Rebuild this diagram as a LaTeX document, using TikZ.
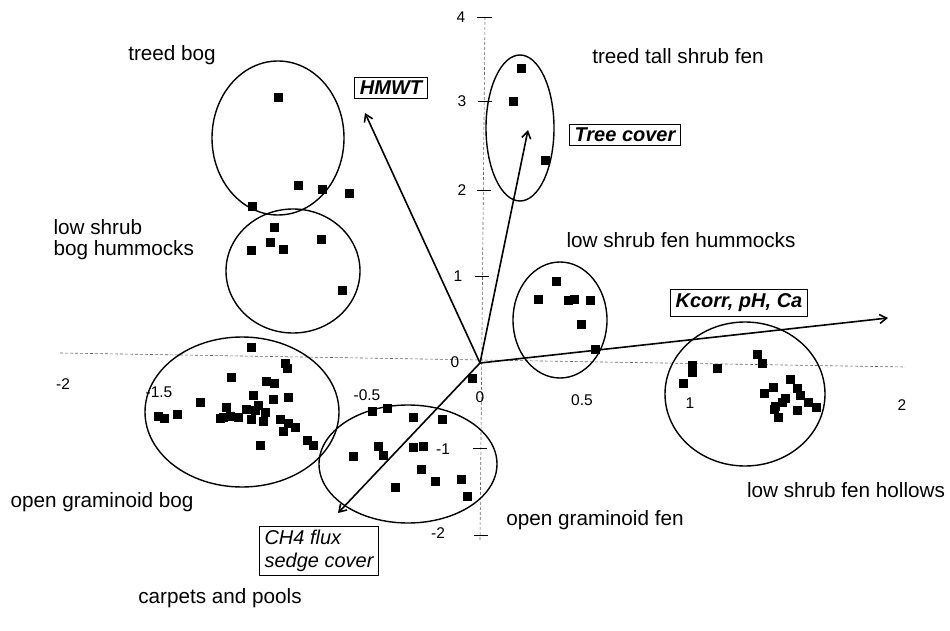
\documentclass[tikz,border=0pt]{standalone}
\usepackage{fontspec}
\setmainfont{Liberation Sans}
\usetikzlibrary{arrows.meta}
\tikzset{
  grplabel/.style={font=\fontsize{20.7}{21}\selectfont},
  ticklabel/.style={font=\fontsize{15.5}{17}\selectfont},
  varbox/.style={draw, line width=1pt, inner xsep=5pt, inner ysep=4pt, font=\fontsize{20}{22}\selectfont\bfseries\itshape},
  vec/.style={line width=1.6pt, -{Straight Barb[length=7pt,width=9pt]}},
  grpline/.style={line width=1.4pt},
  axisline/.style={densely dashed, line width=0.6pt, black!60},
}
\def\plotpts#1{\foreach \px/\py in {#1} {\fill ({\px-4.5},{\py-4.5}) rectangle ++(9,9);}}

\begin{document}
\begin{tikzpicture}[x=1pt,y=-1pt]
			%%%%% START %%%%%
			\useasboundingbox (0,0) rectangle (950,631);
			
			% axes
			\draw[axisline] (60,353) -- (905,367);
			\draw[axisline] (485,17) -- (480,540);
			\draw[line width=0.6pt] (477,17) -- (492,17);
			\draw[line width=0.6pt] (478,101) -- (492,101);
			\draw[line width=0.6pt] (477,190) -- (491,190);
			\draw[line width=0.6pt] (475,276) -- (489,276);
			\draw[line width=0.6pt] (473,448) -- (487,448);
			\draw[line width=0.6pt] (474,535) -- (488,535);
			
			\node[ticklabel] (t4) at (461,17) {4};
			\node[ticklabel] (t3) at (462,101) {3};
			\node[ticklabel] (t2) at (462,190) {2};
			\node[ticklabel] (t1) at (458,276) {1};
			\node[ticklabel] (t0) at (455,362) {0};
			\node[ticklabel] (tm1) at (443,449) {-1};
			\node[ticklabel] (tm2) at (438,533) {-2};
			\node[ticklabel] (xm2) at (63,384) {-2};
			\node[ticklabel] (xm15) at (159,392) {-1.5};
			\node[ticklabel] (xm05) at (367,395) {-0.5};
			\node[ticklabel] (x0) at (480,397) {0};
			\node[ticklabel] (x05) at (582,400) {0.5};
			\node[ticklabel] (x1) at (690,403) {1};
			\node[ticklabel] (x2) at (902,405) {2};
			
			% groups
			\draw[grpline] (278,138) ellipse [x radius=66, y radius=77];
			\draw[grpline] (293,271) ellipse [x radius=67, y radius=62];
			\draw[grpline] (520,128) ellipse [x radius=34, y radius=73];
			\draw[grpline] (560,320) ellipse [x radius=47, y radius=58];
			\draw[grpline] (745,394) ellipse [x radius=80, y radius=72];
			\draw[grpline] (242,412) ellipse [x radius=97, y radius=75];
			\draw[grpline] (408,464) ellipse [x radius=89, y radius=59];
			
			% sites
			\plotpts{278/98, 298/186, 322/190, 349/194, 252/207}
			\plotpts{274/227, 270/242, 283/249, 251/250, 321/239, 342/290}
			\plotpts{521/69, 513/102, 545/161}
			\plotpts{556/281, 538/299, 568/300, 574/299, 590/300, 581/324, 595/349}
			\plotpts{757/354, 762/363, 692/365, 692/372, 717/368, 683/383, 790/379, 773/387, 797/388, 764/393}
			\plotpts{800/395, 785/398, 808/402, 775/406, 816/407, 782/402, 797/410, 778/417, 774/409}
			\plotpts{472/378, 372/411, 387/408, 413/417, 442/419, 353/456, 378/446, 383/455}
			\plotpts{413/447, 423/446, 421/469, 435/481, 461/479, 395/487, 467/496}
			\plotpts{251/347, 285/363, 287/368, 231/377, 266/381, 274/383, 253/395, 273/399, 288/397, 200/402}
			\plotpts{158/416, 164/418, 177/414, 226/407, 223/417, 230/416, 238/417, 246/409, 255/410, 265/412}
			\plotpts{251/419, 263/421, 280/419, 288/423, 295/427, 283/431, 307/440, 313/445, 260/445, 258/405, 220/418}
			
			% vectors
			\coordinate (origin) at (480,363);
			\coordinate (hmwtTip) at (365,113);
			\coordinate (treeTip) at (528,130);
			\coordinate (kcorrTip) at (888,318);
			\coordinate (ch4Tip) at (338,513);
			\draw[vec] (origin) -- (hmwtTip);
			\draw[vec] (origin) -- (treeTip);
			\draw[vec] (origin) -- (kcorrTip);
			\draw[vec] (origin) -- (ch4Tip);
			
			\node[varbox] (hmwt) at (391,88) {HMWT};
			\node[varbox] (tree) at (625,135) {Tree cover};
			\node[varbox] (kcorr) at (739,303) {Kcorr, pH, Ca};
			\node[varbox, font=\fontsize{20}{23}\selectfont\itshape, align=left] (ch4) at (319,551) {CH4 flux\\sedge cover};
			
			% group names
			\node[grplabel] (treedbog) at (172,55) {treed bog};
			\node[grplabel] (treedfen) at (678,56) {treed tall shrub fen};
			\node[grplabel, align=left, anchor=west] (bogh) at (50,240) {low shrub\\bog hummocks};
			\node[grplabel, anchor=west] (fenh) at (563,240) {low shrub fen hummocks};
			\node[grplabel] (ogbog) at (102,502) {open graminoid bog};
			\node[grplabel] (ogfen) at (595,520) {open graminoid fen};
			\node[grplabel] (fenhol) at (846,490) {low shrub fen hollows};
			\node[grplabel] (carpets) at (220,598) {carpets and pools};
			
			%%%%% END %%%%%
\end{tikzpicture}
\end{document}
